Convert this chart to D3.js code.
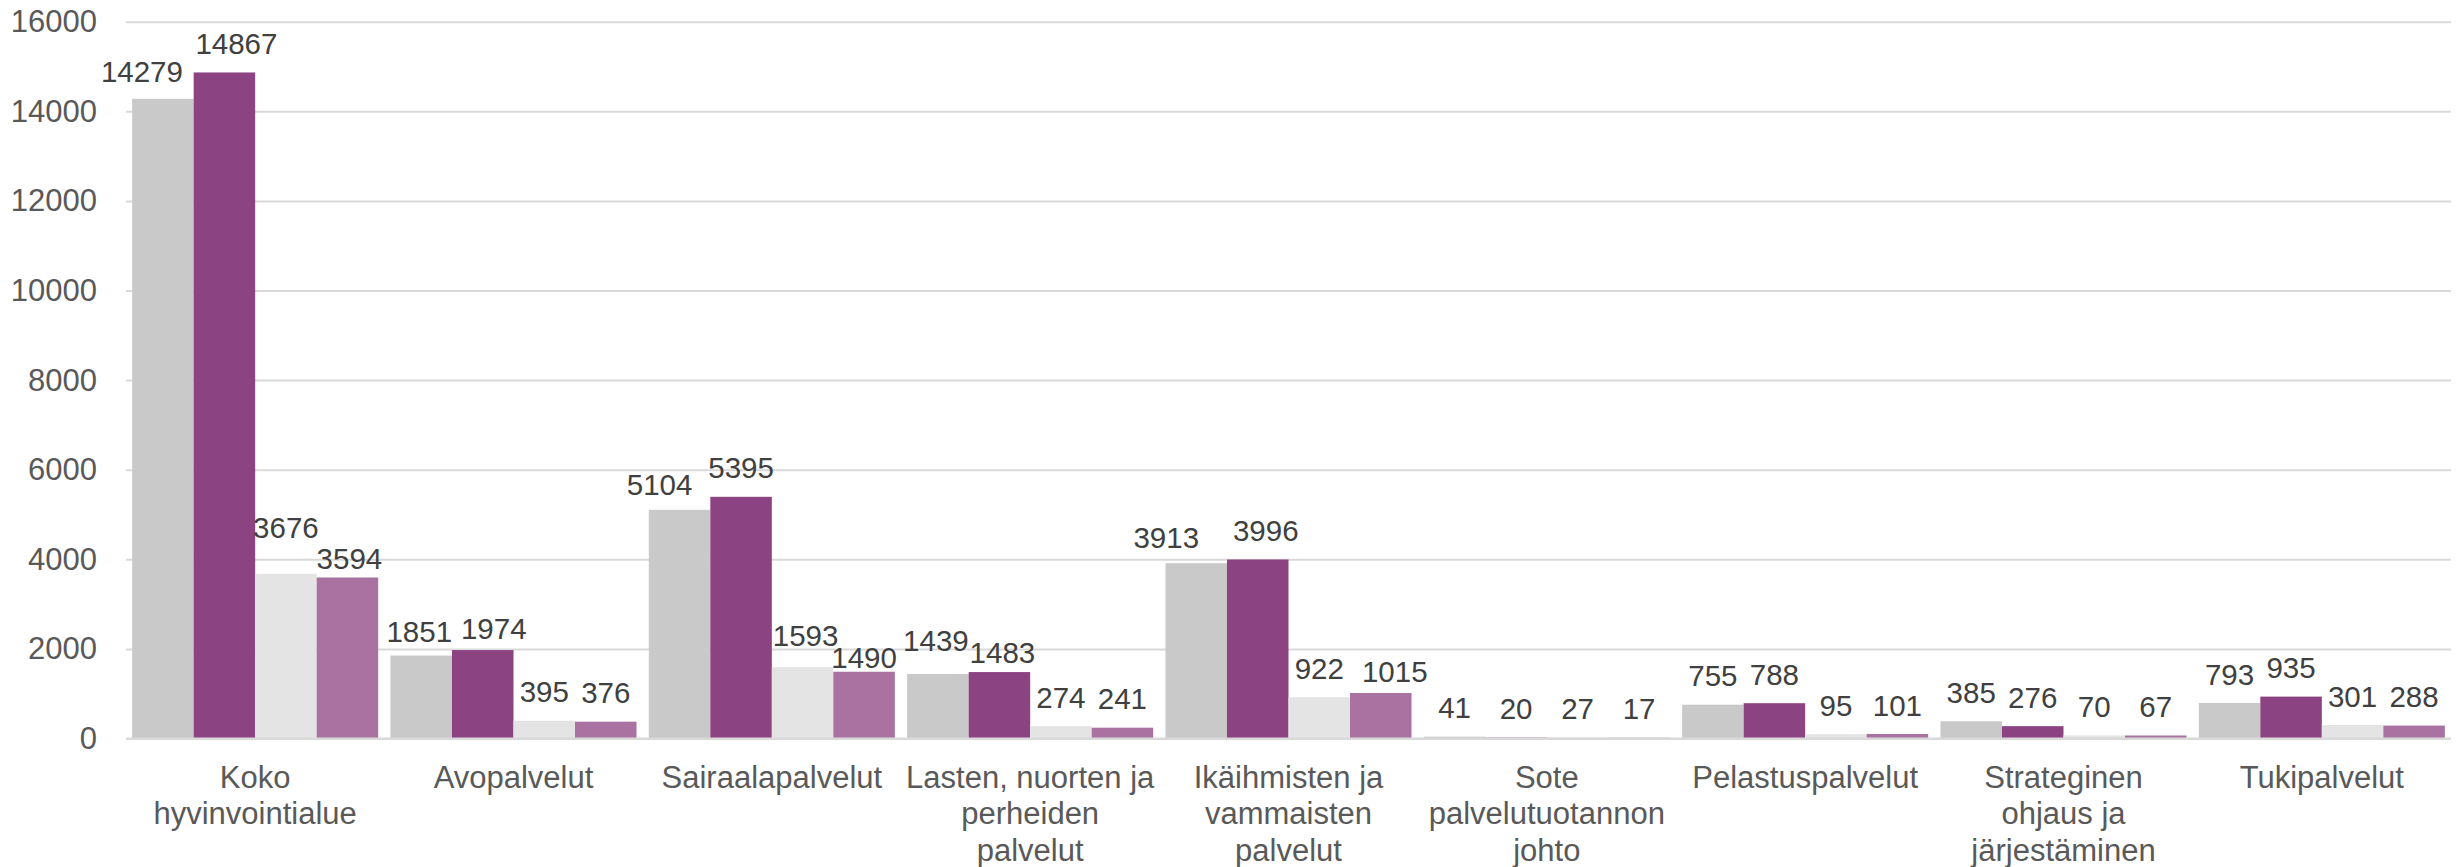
<!DOCTYPE html>
<html>
<head>
<meta charset="utf-8">
<script src="https://cdn.jsdelivr.net/npm/d3@7"></script>
<style>
  body { margin: 0; background: #fff; }
  svg { display: block; font-family: "Liberation Sans", Arial, sans-serif; }
</style>
</head>
<body>
<svg width="2464" height="867"></svg>
<script>
// categories (line breaks as in the original axis)
var categories = [
  "Koko\nhyvinvointialue",
  "Avopalvelut",
  "Sairaalapalvelut",
  "Lasten, nuorten ja\nperheiden\npalvelut",
  "Ikäihmisten ja\nvammaisten\npalvelut",
  "Sote\npalvelutuotannon\njohto",
  "Pelastuspalvelut",
  "Strateginen\nohjaus ja\njärjestäminen",
  "Tukipalvelut"
];

var series1 = [14279, 1851, 5104, 1439, 3913, 41, 755, 385, 793];
var series2 = [14867, 1974, 5395, 1483, 3996, 20, 788, 276, 935];
var series3 = [3676, 395, 1593, 274, 922, 27, 95, 70, 301];
var series4 = [3594, 376, 1490, 241, 1015, 17, 101, 67, 288];

var yTicks = [0, 2000, 4000, 6000, 8000, 10000, 12000, 14000, 16000];

var seriesKeys = ["s1", "s2", "s3", "s4"];
var colors = ["#c9c9c9", "#8c4382", "#e4e4e4", "#a972a1"];

// hand-moved data labels in the original [dx, dy]
var labelNudge = {
  "0-0": [-21, 2], "0-1": [12, 0], "0-2": [0, -17], "0-3": [2, 10],
  "1-0": [-2, 5], "1-1": [11, 7],
  "2-0": [-20, 4], "2-2": [3, -3], "2-3": [0, 15],
  "3-0": [-2, -5], "3-1": [3, 9],
  "4-0": [-30, 3], "4-1": [8, 0], "4-3": [14, 7]
};

var data = categories.map(function(c, i) {
  return { cat: c, s1: series1[i], s2: series2[i], s3: series3[i], s4: series4[i] };
});

var svg = d3.select("svg"),
    margin = {top: 21.7, right: 13, bottom: 128.5, left: 126},
    width = +svg.attr("width") - margin.left - margin.right,
    height = +svg.attr("height") - margin.top - margin.bottom;

var g = svg.append("g").attr("transform", "translate(" + margin.left + "," + margin.top + ")");

var x0 = d3.scaleBand().domain(categories).range([0, width]).padding(0);
var gap = 12.3;
var x1 = d3.scaleBand().domain(seriesKeys).range([gap / 2, x0.bandwidth() - gap / 2]).padding(0);
var y = d3.scaleLinear().domain([0, 16000]).range([height, 0]);

// gridlines + y labels
var yAxis = g.append("g")
    .call(d3.axisLeft(y).tickValues(yTicks).tickFormat(d3.format("d")).tickSize(-width).tickPadding(29));
yAxis.select(".domain").remove();
yAxis.selectAll(".tick line").attr("stroke", "#d9d9d9").attr("stroke-width", 2);
yAxis.selectAll(".tick text")
    .attr("fill", "#595959")
    .style("font-size", "31px");

// bars
var groups = g.selectAll(".grp")
  .data(data)
  .enter().append("g")
    .attr("class", "grp")
    .attr("transform", function(d) { return "translate(" + x0(d.cat) + ",0)"; });

groups.selectAll("rect")
  .data(function(d, i) { return seriesKeys.map(function(k, j) { return {key: k, j: j, i: i, value: d[k]}; }); })
  .enter().append("rect")
    .attr("x", function(d) { return x1(d.key); })
    .attr("y", function(d) { return y(d.value); })
    .attr("width", x1.bandwidth())
    .attr("height", function(d) { return height - y(d.value); })
    .attr("fill", function(d) { return colors[d.j]; });

// baseline
g.append("line")
    .attr("x1", 0).attr("x2", width)
    .attr("y1", height).attr("y2", height)
    .attr("stroke", "#d9d9d9").attr("stroke-width", 2);

// data labels
groups.selectAll("text.val")
  .data(function(d, i) { return seriesKeys.map(function(k, j) { return {key: k, j: j, i: i, value: d[k]}; }); })
  .enter().append("text")
    .attr("class", "val")
    .attr("text-anchor", "middle")
    .attr("fill", "#404040")
    .style("font-size", "29.5px")
    .attr("x", function(d) {
      var n = labelNudge[d.i + "-" + d.j] || [0, 0];
      return x1(d.key) + x1.bandwidth() / 2 + n[0];
    })
    .attr("y", function(d) {
      var n = labelNudge[d.i + "-" + d.j] || [0, 0];
      return y(d.value) - 29 + n[1];
    })
    .attr("dy", "0.36em")
    .text(function(d) { return d.value; });

// category axis
var xAxis = g.append("g")
    .attr("transform", "translate(0," + height + ")")
    .call(d3.axisBottom(x0).tickSize(0).tickPadding(0));
xAxis.select(".domain").remove();
xAxis.selectAll(".tick text").each(function(d) {
  var t = d3.select(this).text(null).attr("y", 0).attr("dy", null)
      .attr("fill", "#595959").style("font-size", "31px");
  d.split("\n").forEach(function(line, k) {
    t.append("tspan")
      .attr("x", 0)
      .attr("y", 38.2 + k * 36.5)
      .attr("dy", "0.36em")
      .text(line);
  });
});
</script>
</body>
</html>
